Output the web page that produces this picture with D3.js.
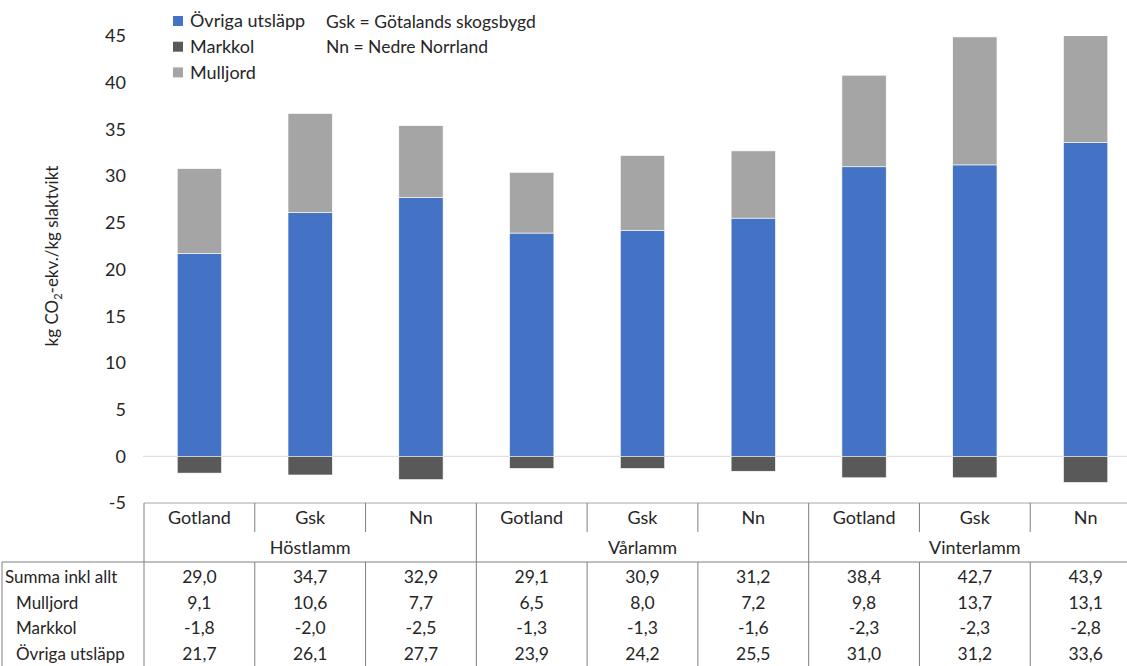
<!DOCTYPE html>
<html>
<head>
<meta charset="utf-8">
<script src="https://cdn.jsdelivr.net/npm/d3@7"></script>
<style>
  body { margin: 0; background: #fff; }
  text { font-family: Lato, "Open Sans", sans-serif; fill: #262626; }
</style>
</head>
<body>
<div id="my_dataviz"></div>
<script>
// data
var grupper = ["Höstlamm", "Vårlamm", "Vinterlamm"];
var regioner = ["Gotland", "Gsk", "Nn"];
var ovriga = [21.7, 26.1, 27.7, 23.9, 24.2, 25.5, 31.0, 31.2, 33.6];
var markkol = [-1.8, -2.0, -2.5, -1.3, -1.3, -1.6, -2.3, -2.3, -2.8];
var mulljord = [9.1, 10.6, 7.7, 6.5, 8.0, 7.2, 9.8, 13.7, 13.1];
var summa = [29.0, 34.7, 32.9, 29.1, 30.9, 31.2, 38.4, 42.7, 43.9];
var serier = ["Övriga utsläpp", "Markkol", "Mulljord"];
var yTicks = [-5, 0, 5, 10, 15, 20, 25, 30, 35, 40, 45];
var raderNamn = ["Summa inkl allt", "Mulljord", "Markkol", "Övriga utsläpp"];
var noter = ["Gsk = Götalands skogsbygd", "Nn = Nedre Norrland"];

var farg = { "Övriga utsläpp": "#4472c4", "Markkol": "#595959", "Mulljord": "#a5a5a5" };

var width = 1127, height = 666;
var fs = "18px";

var svg = d3.select("#my_dataviz")
  .append("svg")
  .attr("width", width)
  .attr("height", height);

// one column per bar (group x region)
var kolumner = [];
grupper.forEach(function (g, gi) {
  regioner.forEach(function (r, ri) {
    kolumner.push({ grupp: g, region: r, i: gi * 3 + ri });
  });
});

var x = d3.scaleBand()
  .domain(kolumner.map(function (d) { return d.i; }))
  .range([144, 1141])
  .padding(0);

var y = d3.scaleLinear()
  .domain([-5, 45])
  .range([503, 36]);

var bw = x.bandwidth() * 0.4;

// y tick labels
svg.append("g")
  .selectAll("text")
  .data(yTicks)
  .enter().append("text")
  .attr("x", 126)
  .attr("y", function (d) { return y(d); })
  .attr("dy", "0.35em")
  .attr("text-anchor", "end")
  .style("font-size", fs)
  .text(function (d) { return d; });

// axis title
svg.append("text")
  .attr("transform", "translate(58,256) rotate(-90)")
  .attr("text-anchor", "middle")
  .style("font-size", "17px")
  .html('kg CO<tspan dy="4" style="font-size:11px">2</tspan><tspan dy="-4">-ekv./kg slaktvikt</tspan>');

// zero line
svg.append("line")
  .attr("x1", 143).attr("x2", width)
  .attr("y1", y(0)).attr("y2", y(0))
  .style("stroke", "#d9d9d9")
  .style("stroke-width", 1);

// bars get cut at 45 like in the original
svg.append("clipPath").attr("id", "klipp")
  .append("rect")
  .attr("x", 0).attr("y", y(45))
  .attr("width", width).attr("height", y(-5) - y(45));

var staplar = svg.append("g").attr("clip-path", "url(#klipp)");

function stapel(namn, lo, hi) {
  staplar.append("g")
    .selectAll("rect")
    .data(kolumner)
    .enter().append("rect")
    .attr("x", function (d) { return x(d.i) + (x.bandwidth() - bw) / 2; })
    .attr("width", bw)
    .attr("y", function (d) { return y(Math.max(lo(d.i), hi(d.i))); })
    .attr("height", function (d) { return Math.abs(y(lo(d.i)) - y(hi(d.i))); })
    .style("fill", farg[namn])
    .style("stroke", "#fff")
    .style("stroke-width", 0.6);
}

stapel("Övriga utsläpp", function () { return 0; }, function (i) { return ovriga[i]; });
stapel("Mulljord", function (i) { return ovriga[i]; }, function (i) { return ovriga[i] + mulljord[i]; });
stapel("Markkol", function () { return 0; }, function (i) { return markkol[i]; });

// legend
var leg = svg.append("g");
serier.forEach(function (s, i) {
  leg.append("rect")
    .attr("x", 173).attr("y", 16 + i * 25.7)
    .attr("width", 10).attr("height", 10)
    .style("fill", farg[s]);
  leg.append("text")
    .attr("x", 190).attr("y", 21 + i * 25.7)
    .attr("dy", "0.35em")
    .style("font-size", fs)
    .text(s);
});

noter.forEach(function (n, i) {
  svg.append("text")
    .attr("x", 326).attr("y", 22 + i * 25)
    .attr("dy", "0.35em")
    .style("font-size", "17.5px")
    .text(n);
});

// ---- data table under the chart ----
var tab = svg.append("g");
var topp = y(-5), katRad = 518, grpRad = 548, dataTopp = 562;
var radY = [577, 603, 628, 654];
var linjeFarg = "#7f7f7f";

// horizontal lines
tab.append("line").attr("x1", 144).attr("x2", width).attr("y1", topp).attr("y2", topp)
  .style("stroke", "#a6a6a6");
tab.append("line").attr("x1", 2).attr("x2", width).attr("y1", dataTopp).attr("y2", dataTopp)
  .style("stroke", linjeFarg);

// left borders
tab.append("line").attr("x1", 144).attr("x2", 144).attr("y1", topp).attr("y2", height)
  .style("stroke", linjeFarg);
tab.append("line").attr("x1", 2).attr("x2", 2).attr("y1", dataTopp).attr("y2", height)
  .style("stroke", linjeFarg);

// separators: short ones in category row, full ones at group edges, all in data rows
kolumner.forEach(function (d) {
  var xx = x(d.i) + x.bandwidth();
  var grans = (d.i % 3 == 2);
  tab.append("line")
    .attr("x1", xx).attr("x2", xx)
    .attr("y1", topp).attr("y2", grans ? dataTopp : 532)
    .style("stroke", linjeFarg);
  tab.append("line")
    .attr("x1", xx).attr("x2", xx)
    .attr("y1", dataTopp).attr("y2", height)
    .style("stroke", linjeFarg);
});

// category and group labels
tab.selectAll(".kat")
  .data(kolumner)
  .enter().append("text")
  .attr("x", function (d) { return x(d.i) + x.bandwidth() / 2; })
  .attr("y", katRad)
  .attr("dy", "0.35em")
  .attr("text-anchor", "middle")
  .style("font-size", fs)
  .text(function (d) { return d.region; });

tab.selectAll(".grp")
  .data(grupper)
  .enter().append("text")
  .attr("x", function (d, i) { return x(i * 3 + 1) + x.bandwidth() / 2; })
  .attr("y", grpRad)
  .attr("dy", "0.35em")
  .attr("text-anchor", "middle")
  .style("font-size", fs)
  .text(function (d) { return d; });

// row names
raderNamn.forEach(function (n, i) {
  tab.append("text")
    .attr("x", i == 0 ? 5 : 16)
    .attr("y", radY[i])
    .attr("dy", "0.35em")
    .style("font-size", "17px")
    .text(n);
});

// row values
var fmt = function (v) { return v.toFixed(1).replace(".", ","); };
[summa, mulljord, markkol, ovriga].forEach(function (rad, ri) {
  tab.append("g")
    .selectAll("text")
    .data(rad)
    .enter().append("text")
    .attr("x", function (d, i) { return x(i) + x.bandwidth() / 2; })
    .attr("y", radY[ri])
    .attr("dy", "0.35em")
    .attr("text-anchor", "middle")
    .style("font-size", "17.5px")
    .text(fmt);
});
</script>
</body>
</html>
